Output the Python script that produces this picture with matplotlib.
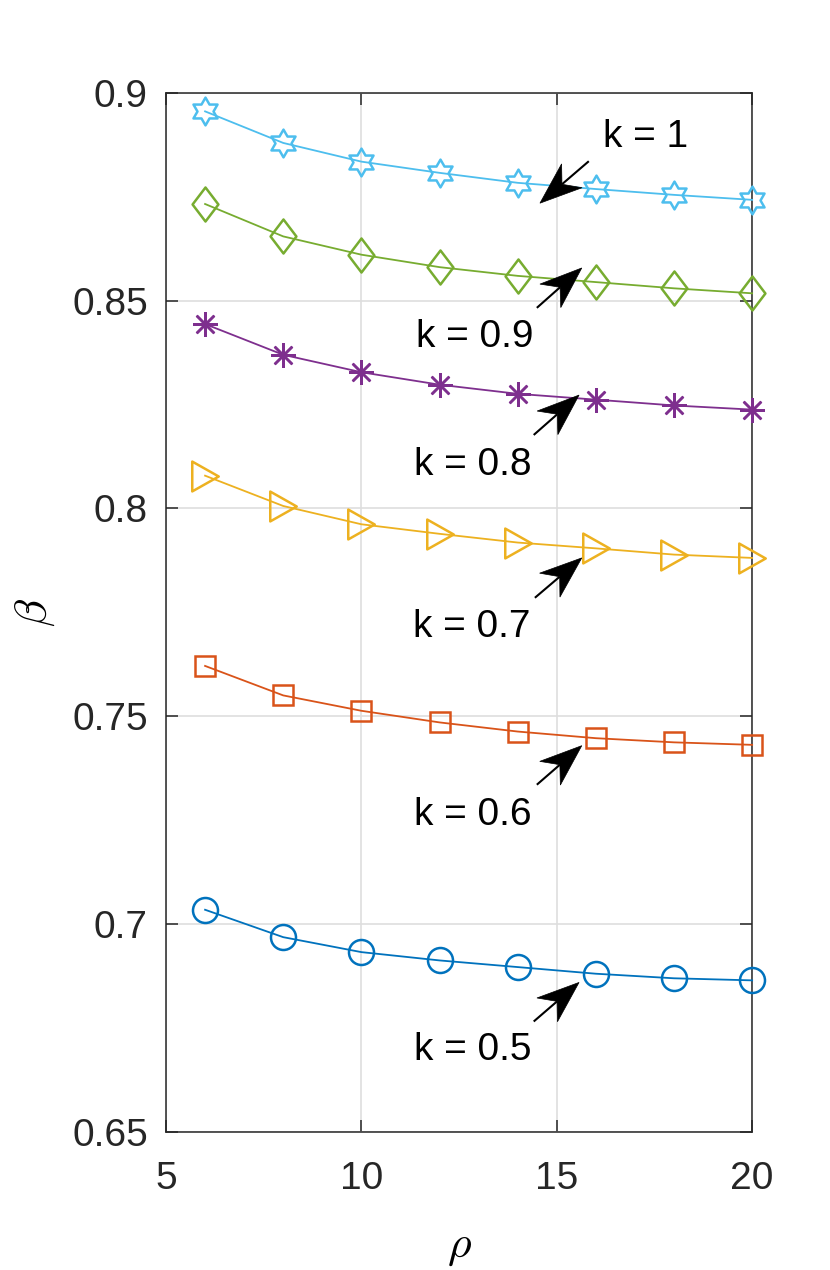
import numpy as np
import matplotlib
matplotlib.use("Agg")
import matplotlib.pyplot as plt
from matplotlib.path import Path
from matplotlib.patches import Polygon
from matplotlib.transforms import IdentityTransform

# ---------------- data ----------------
rho = [6, 8, 10, 12, 14, 16, 18, 20]
beta_k05 = [0.7034, 0.6968, 0.6932, 0.6912, 0.6896, 0.6880, 0.6869, 0.6864]
beta_k06 = [0.7621, 0.7550, 0.7513, 0.7485, 0.7463, 0.7447, 0.7437, 0.7431]
beta_k07 = [0.8079, 0.8006, 0.7962, 0.7939, 0.7918, 0.7904, 0.7889, 0.7881]
beta_k08 = [0.8444, 0.8370, 0.8328, 0.8298, 0.8276, 0.8262, 0.8248, 0.8238]
beta_k09 = [0.8733, 0.8655, 0.8611, 0.8581, 0.8560, 0.8545, 0.8530, 0.8518]
beta_k10 = [0.8956, 0.8880, 0.8835, 0.8808, 0.8784, 0.8769, 0.8755, 0.8743]

labels = ["k = 0.5", "k = 0.6", "k = 0.7", "k = 0.8", "k = 0.9", "k = 1"]
xticks = [5, 10, 15, 20]
yticks = [0.65, 0.7, 0.75, 0.8, 0.85, 0.9]
yticklabels = ["0.65", "0.7", "0.75", "0.8", "0.85", "0.9"]

# annotation layout (data coords): text centre, arrow tail, arrow tip
text_pos = [(12.85, 0.6697), (12.85, 0.7263), (12.83, 0.7715),
            (12.85, 0.8105), (12.90, 0.8413), (17.28, 0.8894)]
arrow_tail = [(14.41, 0.6765), (14.49, 0.7335), (14.44, 0.7785),
              (14.41, 0.8177), (14.49, 0.8483), (15.82, 0.8836)]
arrow_tip = [(15.57, 0.6859), (15.64, 0.7429), (15.64, 0.7881),
             (15.57, 0.8273), (15.64, 0.8579), (14.57, 0.8735)]

# ---------------- styles ----------------
colors = ["#0072BD", "#D95319", "#EDB120", "#7E2F8E", "#77AC30", "#4DBEEE"]

ang_o = np.deg2rad(90 + 60 * np.arange(6))
ang_i = np.deg2rad(120 + 60 * np.arange(6))
hex_verts = []
for ao, ai in zip(ang_o, ang_i):
    hex_verts.append((np.cos(ao), np.sin(ao)))
    hex_verts.append((np.cos(ai) / np.sqrt(3), np.sin(ai) / np.sqrt(3)))
hex_verts.append(hex_verts[0])
hexagram = Path(hex_verts, closed=True)
diamond = Path([(0, 1), (0.76, 0), (0, -1), (-0.76, 0), (0, 1)], closed=True)
tri_right = Path([(-0.887, 1), (0.887, 0), (-0.887, -1), (-0.887, 1)], closed=True)

markers = ["o", "s", tri_right, (8, 2, 0), diamond, hexagram]
msizes = [18, 14.5, 21.5, 18, 24.5, 20]

plt.rcParams['font.family'] = ['Liberation Sans', 'DejaVu Sans']
plt.rcParams['mathtext.fontset'] = 'cm'

fig = plt.figure(figsize=(8.3, 12.7), dpi=100)
ax = fig.add_axes([0.2, 0.1090, 0.7062, 0.8177])

series = [beta_k05, beta_k06, beta_k07, beta_k08, beta_k09, beta_k10]
for ys, c, m, ms in zip(series, colors, markers, msizes):
    ax.plot(rho, ys, color=c, lw=1.3, marker=m, markersize=ms,
            markerfacecolor='none', markeredgecolor=c, markeredgewidth=1.8,
            clip_on=False, zorder=3)

ax.set_xlim(5, 20)
ax.set_ylim(0.65, 0.9)
ax.set_xticks(xticks)
ax.set_xticklabels([str(v) for v in xticks])
ax.set_yticks(yticks)
ax.set_yticklabels(yticklabels)
ax.grid(True, color='#dedede', lw=1.2, zorder=0)
ax.set_axisbelow(True)
for sp in ax.spines.values():
    sp.set_color('#262626')
    sp.set_linewidth(1.1)
ax.tick_params(axis='both', direction='in', length=8.6, width=1.1,
               colors='#262626', labelsize=28, top=True, right=True)
ax.tick_params(axis='y', pad=13.0)
ax.tick_params(axis='x', pad=21.0)

ax.set_xlabel(r'$\rho$', fontsize=33)
ax.xaxis.set_label_coords(0.5, -0.089)
ax.set_ylabel(r'$\beta$', fontsize=33)
ax.yaxis.set_label_coords(-0.186, 0.5)

# annotations
for lab, tp in zip(labels, text_pos):
    ax.text(tp[0], tp[1], lab, fontsize=28, color='black',
            ha='center', va='center')

L, W, N = 42.0, 15.7, 29.0
for tail, tip in zip(arrow_tail, arrow_tip):
    t0 = ax.transData.transform(tail)
    t1 = ax.transData.transform(tip)
    d = t0 - t1
    u = d / np.hypot(*d)
    n = np.array([-u[1], u[0]])
    notch = t1 + N * u
    nd = ax.transData.inverted().transform(notch)
    ax.plot([tail[0], nd[0]], [tail[1], nd[1]],
            color='black', lw=1.5, solid_capstyle='butt', zorder=5, clip_on=False)
    head = np.array([t1, t1 + L * u + W * n, notch, t1 + L * u - W * n])
    fig.patches.append(Polygon(head, closed=True, facecolor='black',
                               edgecolor='black', lw=0.5,
                               transform=IdentityTransform(), figure=fig))

fig.savefig("out.png", dpi=100)
